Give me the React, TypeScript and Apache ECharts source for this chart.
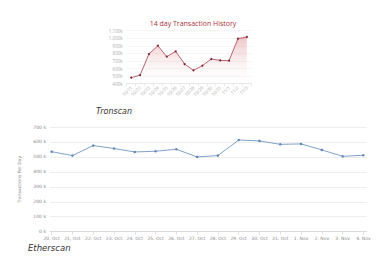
import React, { useEffect, useRef } from "react";
import * as echarts from "echarts";

const topDates = ["10/21", "10/22", "10/23", "10/24", "10/25", "10/26", "10/27", "10/28", "10/29", "10/30", "10/31", "11/1", "11/2", "11/3"];
const topValues = [479, 514, 792, 902, 757, 827, 660, 576, 638, 726, 708, 704, 995, 1017];
const topTitle = "14 day Transaction History";

const bottomDates = ["20. Oct", "21. Oct", "22. Oct", "23. Oct", "24. Oct", "25. Oct", "26. Oct", "27. Oct", "28. Oct", "29. Oct", "30. Oct", "31. Oct", "1. Nov", "2. Nov", "3. Nov", "4. Nov"];
const bottomValues = [535, 509, 576, 556, 533, 538, 551, 500, 509, 613, 607, 584, 587, 547, 504, 511];
const bottomAxisName = "Transactions Per Day";
const tronLabel = "Tronscan";
const ethLabel = "Etherscan";

function fmtTop(v: number): string {
  if (v >= 1000) {
    const th = Math.floor(v / 1000);
    const rest = String(v % 1000).padStart(3, "0");
    return th + "," + rest + "k";
  }
  return v + "k";
}

export default function App() {
  const ref = useRef<HTMLDivElement>(null);
  useEffect(() => {
    if (!ref.current) return;
    const chart = echarts.init(ref.current, undefined, { renderer: "svg" });
    const option: any = {
      animation: false,
      backgroundColor: "#ffffff",
      textStyle: { fontFamily: "Open Sans" },
      title: [
        {
          text: topTitle,
          left: 188,
          top: 15,
          textAlign: "center",
          textStyle: { fontSize: 7, color: "#a8323e", fontWeight: "normal", fontFamily: "Open Sans" },
        },
      ],
      graphic: [
        {
          type: "text",
          left: 96,
          top: 107,
          style: { text: tronLabel, fontSize: 8, fontStyle: "italic", fill: "#333", fontFamily: "DejaVu Sans" },
        },
        {
          type: "text",
          left: 28,
          top: 243,
          style: { text: ethLabel, fontSize: 8.5, fontStyle: "italic", fill: "#333", fontFamily: "DejaVu Sans" },
        },
      ],
      grid: [
        { left: 126.7, top: 30.7, width: 124.6, height: 53 },
        { left: 50, top: 127, width: 316.5, height: 104.7 },
      ],
      xAxis: [
        {
          type: "category",
          gridIndex: 0,
          data: topDates,
          boundaryGap: true,
          axisLine: { lineStyle: { color: "#dddddd", width: 0.6 } },
          axisTick: { show: true, length: 3, lineStyle: { color: "#dddddd", width: 0.6 } },
          axisLabel: { interval: 0, rotate: 45, fontSize: 4.5, color: "#aaaaaa", margin: 3, fontFamily: "Open Sans" },
          splitLine: { show: false },
        },
        {
          type: "value",
          gridIndex: 1,
          min: -0.08,
          max: 15.15,
          axisLine: { lineStyle: { color: "#cccccc", width: 0.6 } },
          axisTick: { show: true, length: 3, customValues: bottomDates.map((_, i) => i), lineStyle: { color: "#cccccc", width: 0.6 } },
          axisLabel: {
            customValues: bottomDates.map((_, i) => i),
            formatter: (v: number) => bottomDates[Math.round(v)] ?? "",
            fontSize: 4.5,
            color: "#888888",
            margin: 4,
            fontFamily: "DejaVu Sans",
          },
          splitLine: { show: false },
        },
      ],
      yAxis: [
        {
          type: "value",
          gridIndex: 0,
          min: 400,
          max: 1100,
          interval: 100,
          axisLine: { show: false },
          axisTick: { show: false },
          axisLabel: { formatter: fmtTop, fontSize: 4.5, color: "#aaaaaa", margin: 4, fontFamily: "Open Sans" },
          splitLine: { lineStyle: { color: "#eeeeee", width: 0.6 } },
        },
        {
          type: "value",
          gridIndex: 1,
          min: 0,
          max: 700,
          interval: 100,
          name: bottomAxisName,
          nameLocation: "middle",
          nameGap: 16,
          nameTextStyle: { fontSize: 4.5, color: "#888888", fontFamily: "DejaVu Sans" },
          axisLine: { show: false },
          axisTick: { show: false },
          axisLabel: { formatter: (v: number) => v + " k", fontSize: 4.5, color: "#888888", margin: 4, fontFamily: "DejaVu Sans" },
          splitLine: { lineStyle: { color: "#e6e6e6", width: 0.7 } },
        },
      ],
      series: [
        {
          type: "line",
          xAxisIndex: 0,
          yAxisIndex: 0,
          data: topValues,
          symbol: "circle",
          symbolSize: 2,
          itemStyle: { color: "#7e2030" },
          lineStyle: { color: "#a8404f", width: 0.8 },
          areaStyle: {
            origin: "start",
            color: new echarts.graphic.LinearGradient(0, 0, 0, 1, [
              { offset: 0, color: "rgba(205,90,95,0.5)" },
              { offset: 1, color: "rgba(255,255,255,0.1)" },
            ]),
          },
        },
        {
          type: "line",
          xAxisIndex: 1,
          yAxisIndex: 1,
          data: bottomValues.map((v, i) => [i, v]),
          symbol: "circle",
          symbolSize: 2.5,
          itemStyle: { color: "#5b86b8" },
          lineStyle: { color: "#7fa2c8", width: 1 },
        },
      ],
    };
    chart.setOption(option);
    return () => chart.dispose();
  }, []);
  return (
    <div
      ref={ref}
      style={{ position: "fixed", left: 0, top: 0, width: 390, height: 259, background: "#fff" }}
    />
  );
}
